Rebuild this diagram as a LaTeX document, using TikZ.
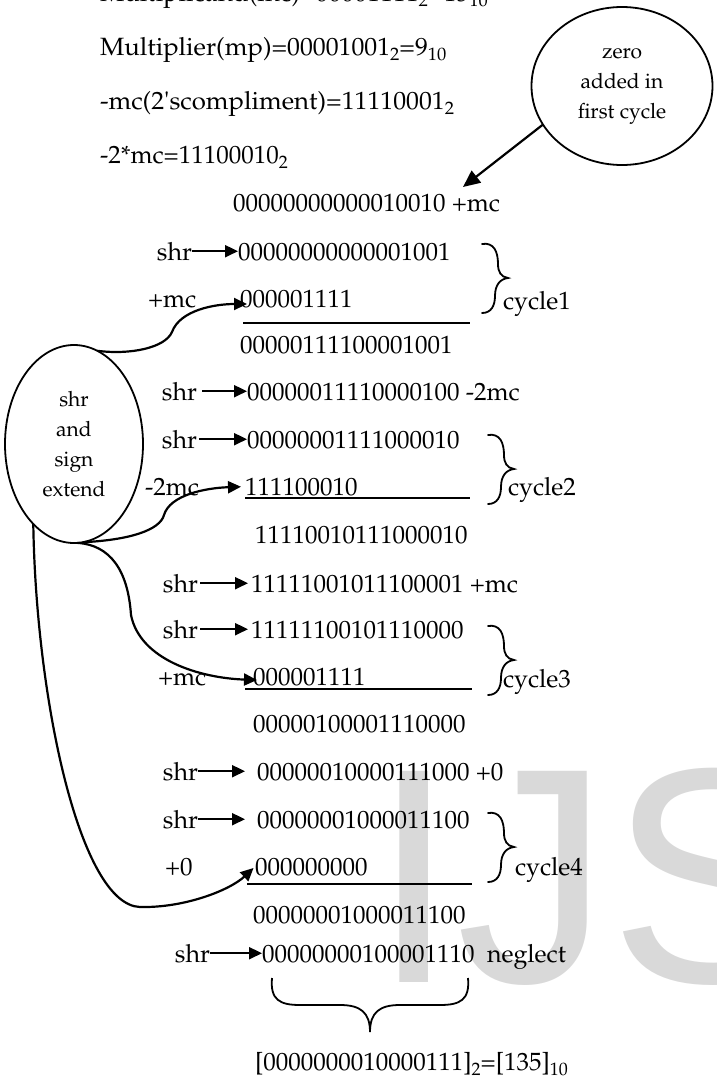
\documentclass[tikz,border=0pt]{standalone}
\usepackage[T1]{fontenc}
\usepackage{fontspec}
\newfontfamily\wmfamily{Liberation Sans}
\usetikzlibrary{arrows.meta,shapes.geometric}
% Palatino (Type 1) for the worked example
\newcommand\pal{\fontencoding{T1}\fontfamily{ppl}}
\newcommand\rowfont{\pal\fontsize{25}{30}\selectfont}
\newcommand\notefont{\pal\fontsize{21}{30}\selectfont}
\newcommand\wmfont{\wmfamily\fontsize{307}{307}\selectfont}
% radix subscripts
\newcommand\radix[1]{\raisebox{-5pt}{\fontsize{18}{18}\selectfont #1}}

\begin{document}
\begin{tikzpicture}[x=1pt,y=-1pt,
  every node/.style={inner sep=0pt, outer sep=0pt},
  txt/.style={anchor=base west, font=\rowfont},
  txtr/.style={anchor=base east, font=\rowfont},
  note/.style={ellipse, draw, line width=1.8pt, align=center, font=\notefont},
  shiftarrow/.style={line width=2.2pt, -{Triangle[length=13pt,width=12pt]}},
  link/.style={line width=2.2pt, -{Triangle[length=13pt,width=12pt]}},
  rule/.style={line width=1.8pt},
  cbrace/.pic={\draw[line width=1.8pt, line cap=round]
     (0,-34) .. controls (12,-36) and (16,-26) .. (16,-14)
             .. controls (16,-6) and (19,-1) .. (26,0)
             .. controls (18,1) and (13,7) .. (13,18)
             .. controls (13,28) and (9,35) .. (0,35);}
]
\useasboundingbox (0,0) rectangle (717,1082);
\clip (0,0) rectangle (717,1082);

% watermark behind everything
\node[anchor=base west, text=black!15, font=\wmfont] (mark) at (371,982) {IJS};

% operands
\node[txt] (opA) at (100,1)   {\scalebox{1.03}[1]{Multiplicand(mc)=00001111\radix{2}=15\radix{10}}};
\node[txt] (opB) at (100,55)  {\scalebox{1.03}[1]{Multiplier(mp)=00001001\radix{2}=9\radix{10}}};
\node[txt] (opC) at (100,109) {\scalebox{1.03}[1]{-mc(2\textquotesingle scompliment)=11110001\radix{2}}};
\node[txt] (opD) at (100,163) {-2*mc=11100010\radix{2}};

% notes
\node[note, minimum width=181pt, minimum height=158pt] (zero) at (622,86) {zero\\added in\\first cycle};
\node[note, minimum width=138pt, minimum height=198pt] (sse) at (74,444) {shr\\and\\sign\\extend};
\coordinate (ztip) at (463,187);

% register rows
\node[txt] (rowA) at (233,211) {00000000000010010 +mc};

\node[txtr] (shrB) at (192,260) {shr};
\node[txt] (rowB) at (238,260) {00000000000001001};
\node[txt] (addC) at (148,307) {+mc};
\node[txt] (rowC) at (240,307) {000001111};
\node[txt] (rowD) at (240,353) {00000111100001001};

\node[txtr] (shrE) at (197,400) {shr};
\node[txt] (rowE) at (247,400) {00000011110000100 -2mc};
\node[txtr] (shrF) at (197,448) {shr};
\node[txt] (rowF) at (247,448) {00000001111000010};
\node[txt] (addG) at (145,495) {-2mc};
\node[txt] (rowG) at (245,495) {111100010};
\node[txt] (rowH) at (255,543) {11110010111000010};

\node[txtr] (shrI) at (198,592) {shr};
\node[txt] (rowI) at (251,592) {11111001011100001 +mc};
\node[txtr] (shrJ) at (198,638) {shr};
\node[txt] (rowJ) at (251,638) {11111100101110000};
\node[txt] (addK) at (158,685) {+mc};
\node[txt] (rowK) at (253,685) {000001111};
\node[txt] (rowL) at (253,732) {00000100001110000};

\node[txtr] (shrM) at (198,780) {shr};
\node[txt] (rowM) at (257,780) {00000010000111000 +0};
\node[txtr] (shrN) at (198,828) {shr};
\node[txt] (rowN) at (257,828) {00000001000011100};
\node[txt] (addO) at (165,875) {+0};
\node[txt] (rowO) at (255,875) {000000000};
\node[txt] (rowP) at (253,923) {00000001000011100};

\node[txtr] (shrQ) at (210,962) {shr};
\node[txt] (rowQ) at (262,962) {00000000100001110};
\node[txt] (negl) at (487,962) {neglect};
\node[txt] (result) at (255,1070) {[0000000010000111]\radix{2}=[135]\radix{10}};

% cycle labels
\node[txt] (cyc1) at (503,309) {cycle1};
\node[txt] (cyc2) at (508,495) {cycle2};
\node[txt] (cyc3) at (503,687) {cycle3};
\node[txt] (cyc4) at (515,875) {cycle4};

% shift arrows
\draw[shiftarrow] (shrB.east) -- (shrB.east -| rowB.west);
\draw[shiftarrow, shorten <=5pt] (shrE.east) -- (shrE.east -| rowE.west);
\draw[shiftarrow, shorten <=2pt] (shrF.east) -- (shrF.east -| rowF.west);
\draw[shiftarrow, shorten <=2pt, shorten >=3pt] (shrI.east) -- (shrI.east -| rowI.west);
\draw[shiftarrow, shorten <=2pt, shorten >=3pt] (shrJ.east) -- (shrJ.east -| rowJ.west);
\draw[shiftarrow, shorten >=12pt] (shrM.east) -- (shrM.east -| rowM.west);
\draw[shiftarrow, shorten >=12pt] (shrN.east) -- (shrN.east -| rowN.west);
\draw[shiftarrow] (shrQ.east) -- (shrQ.east -| rowQ.west);

% addition rules
\draw[rule] ([xshift=3pt,yshift=-16pt]rowC.base west) -- ++(227,0);
\draw[rule] ([yshift=-3pt]rowG.base west) -- ++(225,0);
\draw[rule] ([xshift=-8pt,yshift=-4pt]rowK.base west) -- ++(227,0);
\draw[rule] ([xshift=-8pt,yshift=-9pt]rowO.base west) -- ++(225,0);

% cycle braces
\pic at (482,278) {cbrace};
\pic at (488,469) {cbrace};
\pic at (488,660) {cbrace};
\pic at (488,847) {cbrace};

% result brace
\draw[line width=1.8pt]
  (272,978) .. controls (270,1000) and (280,1005) .. (300,1005) -- (340,1005)
  .. controls (360,1005) and (370,1012) .. (370,1032)
  .. controls (370,1012) and (380,1005) .. (400,1005) -- (440,1005)
  .. controls (460,1005) and (470,1000) .. (468,978);

% note connectors
\draw[line width=2.2pt, -{Triangle[length=17pt,width=15pt]}] (zero.206) -- (ztip);
\draw[link] (sse.76) .. controls (130,355) and (165,348) .. (172,332)
  .. controls (180,310) and (215,304) .. ([xshift=7pt,yshift=3pt]rowC.base west);
\draw[link, shorten >=4pt] (sse.275) .. controls (130,540) and (160,530) .. (164,515)
  .. controls (170,495) and (205,488) .. (rowG.west);
\draw[link] (sse.272) .. controls (110,545) and (128,570) .. (131,615)
  .. controls (140,660) and (200,678) .. ([xshift=4pt,yshift=5pt]rowK.base west);
\draw[link, shorten >=2pt] (sse.243) .. controls (36,700) and (80,905) .. (140,907)
  .. controls (185,908) and (230,890) .. (rowO.west);
\end{tikzpicture}
\end{document}
